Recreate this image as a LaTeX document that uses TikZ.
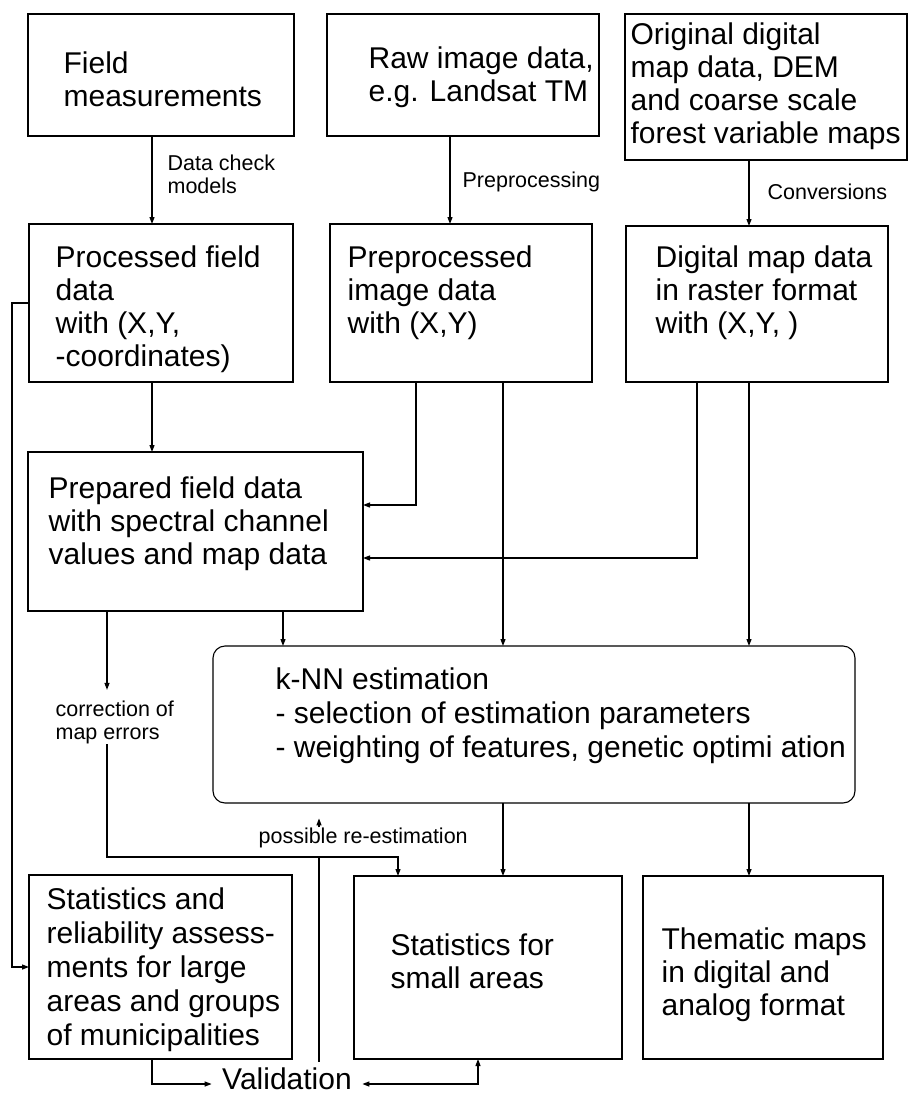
\documentclass[tikz,border=0pt]{standalone}
\usepackage{fontspec}
\setmainfont{Liberation Sans}
\usetikzlibrary{arrows.meta}
\tikzstyle{Block}=[rectangle, draw=black, line width=1.1pt, anchor=north west, inner sep=0pt, outer sep=0pt]
\tikzstyle{Round}=[Block, rounded corners=12pt]
\tikzstyle{Txt}=[anchor=west, align=left, inner sep=0pt, font=\fontsize{30}{33}\selectfont]
\tikzstyle{Note}=[anchor=west, align=left, inner sep=0pt, font=\fontsize{21.5}{23}\selectfont]

\begin{document}
\begin{tikzpicture}[x=1pt, y=-1pt, line width=1.2pt, >={Triangle[length=7pt,width=5pt]}]
    \useasboundingbox (0,0) rectangle (908,1095);
    \path
    (28,14) node[Block, minimum width=266pt, minimum height=122pt] (field) {}
    (327,14) node[Block, minimum width=272pt, minimum height=122pt] (raw) {}
    (625,14) node[Block, minimum width=282pt, minimum height=146pt] (orig) {}
    (29,224) node[Block, minimum width=264pt, minimum height=158pt] (proc) {}
    (330,224) node[Block, minimum width=262pt, minimum height=158pt] (prepimg) {}
    (626,226) node[Block, minimum width=262pt, minimum height=156pt] (digi) {}
    (28,452) node[Block, minimum width=335pt, minimum height=159pt] (prepared) {}
    (213,646) node[Round, minimum width=642pt, minimum height=157pt] (knn) {}
    (29,875) node[Block, minimum width=263pt, minimum height=184pt] (statrel) {}
    (354,876) node[Block, minimum width=268pt, minimum height=183pt] (small) {}
    (643,876) node[Block, minimum width=240pt, minimum height=183pt] (them) {};

    \path
    (63,79) node[Txt] (fieldtxt) {Field\\measurements}
    (368,77) node[Txt] (rawtxt) {Raw image data,\\e.g. Landsat TM}
    (630,86) node[Txt] (origtxt) {Original digital\\map data, DEM\\and coarse scale\\forest variable maps}
    (55,309) node[Txt] (proctxt) {Processed field\\data\\with (X,Y,\\-coordinates)}
    (347,293) node[Txt] (prepimgtxt) {Preprocessed\\image data\\with (X,Y)}
    (655,293) node[Txt] (digitxt) {Digital map data\\in raster format\\with (X,Y, )}
    (48,524) node[Txt] (preparedtxt) {Prepared field data\\with spectral channel\\values and map data}
    (275,716) node[Txt, font=\fontsize{30}{34}\selectfont] (knntxt) {k-NN estimation\\- selection of estimation parameters\\- weighting of features, genetic optimi ation}
    (46,970) node[Txt, font=\fontsize{30}{34}\selectfont] (statreltxt) {Statistics and\\reliability assess-\\ments for large\\areas and groups\\of municipalities}
    (390,961) node[Txt] (smalltxt) {Statistics for\\small areas}
    (661,975) node[Txt] (themtxt) {Thematic maps\\in digital and\\analog format}
    (287,1079) node[Txt, anchor=center, inner xsep=10pt] (val) {Validation};

    \path
    (167,174) node[Note] (check) {Data check\\models}
    (462,182) node[Note] (preproc) {Preprocessing}
    (767,192) node[Note] (conv) {Conversions}
    (55,722) node[Note] (corr) {correction of\\map errors}
    (258,838) node[Note] (reest) {possible re-estimation};

    \draw[->] (field.south -| 152,0) -- (proc.north -| 152,0);
    \draw[->] (raw.south -| 450,0) -- (prepimg.north -| 450,0);
    \draw[->] (orig.south -| 749,0) -- (digi.north -| 749,0);
    \draw[->] (proc.south -| 152,0) -- (prepared.north -| 152,0);
    \draw[->] (prepimg.south -| 416,0) |- (prepared.east |- 0,505);
    \draw[->] (prepimg.south -| 503,0) -- (knn.north -| 503,0);
    \draw[->] (digi.south -| 697,0) |- (prepared.east |- 0,558);
    \draw[->] (digi.south -| 749,0) -- (knn.north -| 749,0);
    \draw[->] (prepared.south -| 283,0) -- (knn.north -| 283,0);
    \draw[->, shorten >=10pt] (prepared.south -| 107,0) -- (corr.north -| 107,0);
    \coordinate (loop) at (107,857);
    \draw[->] (corr.south -| loop) -- (loop) -| (small.north -| 398,0);
    \draw[->] (knn.south -| 503,0) -- (small.north -| 503,0);
    \draw[->] (knn.south -| 749,0) -- (them.north -| 749,0);
    \coordinate (back) at (12,967);
    \draw[->] (proc.west |- 0,303) -| (back) -- (statrel.west |- back);
    \draw[->] (reest.north -| 319,0) -- ++(0,-9);
    \draw[shorten <=8pt, shorten >=5pt] (reest.south -| 319,0) -- (val.north -| 319,0);
    \draw[->] (statrel.south -| 152,0) |- ([yshift=-5pt]val.west);
    \draw[<->] ([yshift=-5pt]val.east) -| (small.south -| 478,0);
\end{tikzpicture}
\end{document}
